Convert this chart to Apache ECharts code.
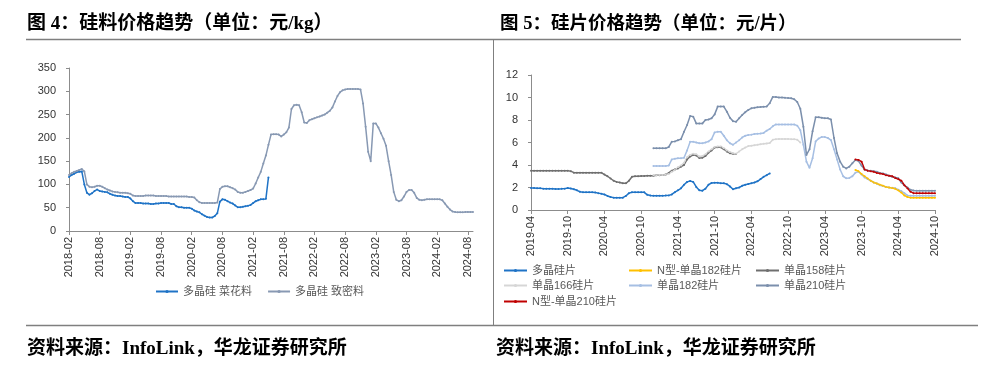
<!DOCTYPE html>
<html>
<head>
<meta charset="utf-8">
<script src="https://cdn.jsdelivr.net/npm/echarts@6/dist/echarts.min.js"></script>
<style>
  html, body { margin: 0; padding: 0; background: #fff; }
  #main { width: 982px; height: 376px; }
</style>
</head>
<body>
<div id="main"></div>
<script>
// ── Данные: 硅料 (元/kg), шаг полмесяца с 2018-02 ──────────────────────────
const siliconDense = [
  120,124,127,129,131,133,128,100,95,94,95,97,
  97,95,92,89,87,85,84,83,82,82,82,81,
  80,76,75,75,75,75,76,76,76,76,75,75,
  75,75,75,74,74,74,74,74,74,74,74,73,
  73,72,66,62,60,60,60,60,60,60,61,90,
  95,96,96,94,92,89,84,82,82,84,86,88,
  91,102,115,127,145,162,185,207,208,208,207,203,
  207,212,222,262,270,271,270,255,233,232,238,240,
  242,244,246,248,250,254,258,265,278,290,298,302,
  304,305,305,305,305,305,304,274,224,170,150,231,
  231,222,210,198,183,150,120,84,67,64,66,74,
  84,88,88,82,71,67,66,67,68,68,68,68,
  68,68,66,59,52,46,42,41,40,40,40,41,
  41,41,41
];
const siliconCauli = [
  116,120,123,126,127,128,100,82,78,81,86,89,
  86,85,84,83,80,78,76,75,75,74,73,73,
  70,64,60,60,60,59,59,59,58,58,59,59,
  60,60,60,60,58,58,53,51,51,50,50,50,
  48,44,42,40,36,33,30,29,29,32,38,63,
  68,67,64,61,59,55,51,51,52,53,54,56,
  60,64,66,68,68,69,115
];

// ── Данные: 硅片 (元/片), шаг полмесяца с 2019-04 ──────────────────────────
const waferPoly = [
  1.95,1.95,1.93,1.93,1.9,1.9,1.88,1.88,1.87,1.87,1.88,1.9,
  1.95,1.92,1.85,1.75,1.62,1.57,1.57,1.57,1.57,1.55,1.5,1.45,
  1.38,1.25,1.15,1.1,1.1,1.1,1.1,1.25,1.5,1.57,1.57,1.57,
  1.57,1.57,1.35,1.28,1.27,1.27,1.27,1.27,1.28,1.3,1.38,1.58,
  1.75,1.93,2.25,2.5,2.58,2.5,2.05,1.75,1.72,1.9,2.25,2.4,
  2.43,2.42,2.38,2.37,2.3,2.1,1.85,1.93,2.0,2.15,2.25,2.32,
  2.37,2.45,2.55,2.75,2.95,3.1,3.25
];
const wafer158 = [
  3.5,3.5,3.5,3.5,3.5,3.5,3.5,3.5,3.5,3.5,3.5,3.5,
  3.5,3.45,3.32,3.32,3.32,3.32,3.32,3.32,3.32,3.32,3.32,3.32,
  3.15,3.0,2.8,2.6,2.5,2.45,2.37,2.37,2.6,2.96,3.0,3.0,
  3.02,3.02,3.05,3.05,3.05,3.08,3.1,3.12,3.15,3.3,3.5,3.6,
  3.7,3.85,4.0,4.5,4.75,4.9,4.85,4.62,4.65,4.8,5.1,5.3,
  5.55,5.57,5.57,5.4,5.2,5.05,5.0,4.98
];
const wafer166Start = '2020-12-01';
const wafer166 = [
  3.1,3.1,3.12,3.12,3.15,3.2,3.4,3.55,
  3.8,3.95,4.2,4.7,4.9,5.0,4.95,4.75,4.8,4.95,5.2,5.4,
  5.6,5.65,5.65,5.5,5.3,5.15,5.05,5.0,5.2,5.4,5.55,5.68,
  5.72,5.76,5.8,5.85,5.88,5.92,5.95,6.25,6.3,6.31,6.31,6.31,
  6.31,6.3,6.3,6.25,6.0
];
const wafer182Start = '2020-12-01';
const wafer182 = [
  3.91,3.91,3.91,3.91,3.91,3.95,4.5,4.55,
  4.6,4.6,4.65,5.3,6.07,6.07,6.0,5.93,5.93,6.0,6.1,6.3,
  6.9,6.96,6.96,6.6,6.2,5.93,5.8,6.0,6.2,6.45,6.6,6.67,
  6.7,6.75,6.78,6.8,6.85,7.05,7.2,7.45,7.61,7.61,7.61,7.61,
  7.61,7.61,7.6,7.5,7.1,5.8,4.3,3.75,4.6,6.1,6.35,6.5,
  6.48,6.4,6.22,5.4,4.5,3.6,3.0,2.82,2.85,3.0,3.32,3.4,
  3.15,2.9,2.75,2.6,2.45,2.35,2.2,2.13,2.05,2.0,1.97,1.93,
  1.8,1.68,1.5,1.3,1.26,1.26,1.26,1.26,1.26,1.26,1.26,1.26,
  1.26
];
const wafer210Start = '2020-12-01';
const wafer210 = [
  5.48,5.48,5.48,5.48,5.48,5.6,6.07,6.1,
  6.2,6.3,6.96,7.56,8.36,8.3,7.7,7.7,7.7,8.0,8.05,8.15,
  8.5,9.19,9.19,9.19,8.74,8.2,7.9,7.85,8.15,8.44,8.7,8.9,
  9.04,9.08,9.13,9.15,9.17,9.19,9.5,10.05,10.05,10.0,10.0,9.97,
  9.95,9.93,9.85,9.6,9.0,7.4,4.9,5.4,7.0,8.24,8.24,8.2,
  8.15,8.15,8.05,6.4,5.04,4.3,3.85,3.7,3.85,4.15,4.44,4.35,
  3.95,3.6,3.52,3.48,3.45,3.4,3.3,3.25,3.15,3.05,2.96,2.9,
  2.82,2.45,2.2,2.0,1.8,1.74,1.72,1.72,1.72,1.72,1.72,1.72,
  1.72
];
const waferN182Start = '2023-09-01';
const waferN182 = [
  3.56,3.45,
  3.2,3.0,2.8,2.6,2.45,2.35,2.25,2.15,2.05,2.0,1.95,1.88,
  1.75,1.55,1.3,1.15,1.1,1.1,1.1,1.1,1.1,1.1,1.1,1.1,
  1.1
];
const waferN210Start = '2023-09-01';
const waferN210 = [
  4.5,4.45,
  4.3,3.6,3.5,3.45,3.4,3.3,3.25,3.2,3.1,3.05,3.0,2.85,
  2.75,2.6,2.2,1.93,1.63,1.5,1.48,1.48,1.48,1.48,1.48,1.48,
  1.48
];

// Даты по полмесяца: YYYY-MM-01 / YYYY-MM-16
function halfMonths(year, month, count) {
  const out = [];
  for (let i = 0; i < count; i++) {
    const mm = month - 1 + Math.floor(i / 2);
    const yy = year + Math.floor(mm / 12);
    const m2 = (mm % 12) + 1;
    out.push(yy + '-' + String(m2).padStart(2, '0') + (i % 2 ? '-16' : '-01'));
  }
  return out;
}
const siliconDates = halfMonths(2018, 2, 159);
const waferDates = halfMonths(2019, 4, 133);

function fromDate(dates, start, vals) {
  const idx = dates.indexOf(start);
  return new Array(idx).fill(null).concat(vals);
}

const FONT_CN = '"Liberation Serif", "Noto Sans CJK SC", serif';
const FONT_LG = '"Liberation Sans", "Noto Sans CJK SC", sans-serif';
const FONT_AX = '"Liberation Sans", Arial, sans-serif';
const AX_COLOR = '#8c8c8c';

function line(name, color, data, xi, w) {
  return {
    name: name, type: 'line', xAxisIndex: xi, yAxisIndex: xi, data: data,
    symbol: 'circle', symbolSize: 2, showAllSymbol: true,
    lineStyle: { color: color, width: w || 1.5 },
    itemStyle: { color: color },
    connectNulls: false, emphasis: { disabled: true }
  };
}

function xAx(gi, dates) {
  return {
    type: 'category', gridIndex: gi, data: dates, boundaryGap: false,
    axisLine: { lineStyle: { color: AX_COLOR } },
    axisTick: { interval: 11, length: 4, lineStyle: { color: AX_COLOR } },
    axisLabel: { interval: 11, rotate: 90, margin: 6, fontSize: 11, color: '#333',
      fontFamily: FONT_AX, formatter: function (v) { return v.slice(0, 7); } },
    splitLine: { show: false }
  };
}
function yAx(gi, max, step) {
  return {
    type: 'value', gridIndex: gi, min: 0, max: max, interval: step,
    axisLine: { show: true, lineStyle: { color: AX_COLOR } },
    axisTick: { show: true, length: 3, lineStyle: { color: AX_COLOR } },
    axisLabel: { margin: 13, fontSize: 11, color: '#333', fontFamily: FONT_AX },
    splitLine: { show: false }
  };
}

const legendText = { fontSize: 11, color: '#595959', fontFamily: FONT_LG };
function legendItem(name, left, top) {
  return {
    data: [name], left: left, top: top, padding: 0, itemWidth: 23, itemHeight: 4,
    selectedMode: false, itemGap: 5, textStyle: legendText
  };
}

const chart = echarts.init(document.getElementById('main'));
chart.setOption({
  animation: false,
  backgroundColor: '#fff',
  grid: [
    { left: 69, top: 68, width: 404, height: 163 },
    { left: 531, top: 75, width: 404, height: 135 }
  ],
  xAxis: [xAx(0, siliconDates), xAx(1, waferDates)],
  yAxis: [yAx(0, 350, 50), yAx(1, 12, 2)],
  legend: [
    {
      data: ['多晶硅 菜花料', '多晶硅 致密料'], left: 155, top: 286, padding: 0,
      itemWidth: 22, itemHeight: 4, itemGap: 15, selectedMode: false,
      textStyle: legendText
    },
    legendItem('多晶硅片', 503, 265),
    legendItem('N型-单晶182硅片', 628, 265),
    legendItem('单晶158硅片', 755, 265),
    legendItem('单晶166硅片', 503, 280),
    legendItem('单晶182硅片', 628, 280),
    legendItem('单晶210硅片', 755, 280),
    legendItem('N型-单晶210硅片', 503, 296)
  ],
  series: [
    line('多晶硅 菜花料', '#1f73c6', siliconCauli, 0),
    line('多晶硅 致密料', '#8899b3', siliconDense, 0),
    line('多晶硅片', '#1f73c6', waferPoly, 1),
    line('单晶158硅片', '#6f6f6f', wafer158, 1),
    line('单晶166硅片', '#d6d6d6', fromDate(waferDates, wafer166Start, wafer166), 1),
    line('单晶182硅片', '#a6bfe3', fromDate(waferDates, wafer182Start, wafer182), 1),
    line('单晶210硅片', '#7b8fac', fromDate(waferDates, wafer210Start, wafer210), 1),
    line('N型-单晶182硅片', '#ffc000', fromDate(waferDates, waferN182Start, waferN182), 1),
    line('N型-单晶210硅片', '#c00000', fromDate(waferDates, waferN210Start, waferN210), 1)
  ],
  graphic: [
    { type: 'text', left: 27, top: 15, style: { text: '图 4：硅料价格趋势（单位：元/kg）',
      font: 'bold 19px ' + FONT_CN, fill: '#000' } },
    { type: 'text', left: 500, top: 15, style: { text: '图 5：硅片价格趋势（单位：元/片）',
      font: 'bold 18.5px ' + FONT_CN, fill: '#000' } },
    { type: 'line', shape: { x1: 26, y1: 39.5, x2: 961, y2: 39.5 }, style: { stroke: '#7f7f7f', lineWidth: 1.5 } },
    { type: 'line', shape: { x1: 493.5, y1: 39.5, x2: 493.5, y2: 325 }, style: { stroke: '#7f7f7f', lineWidth: 1 } },
    { type: 'line', shape: { x1: 26, y1: 325.5, x2: 978, y2: 325.5 }, style: { stroke: '#7f7f7f', lineWidth: 1.5 } },
    { type: 'text', left: 27, top: 340, style: { text: '资料来源：InfoLink，华龙证券研究所',
      font: 'bold 19px ' + FONT_CN, fill: '#000' } },
    { type: 'text', left: 496, top: 340, style: { text: '资料来源：InfoLink，华龙证券研究所',
      font: 'bold 19px ' + FONT_CN, fill: '#000' } }
  ]
});
</script>
</body>
</html>
